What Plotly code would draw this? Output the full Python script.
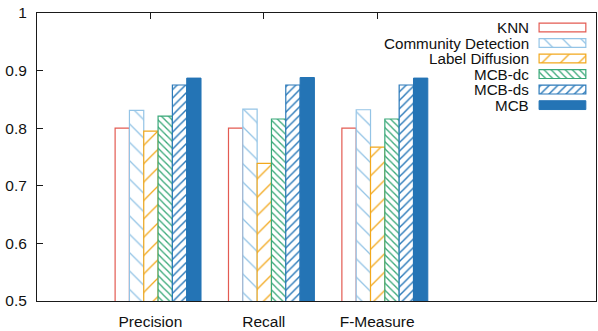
import plotly.graph_objects as go

# Data
categories = ["Precision", "Recall", "F-Measure"]
methods = ["KNN", "Community Detection", "Label Diffusion", "MCB-dc", "MCB-ds", "MCB"]
knn = [0.800, 0.800, 0.800]
community_detection = [0.831, 0.833, 0.832]
label_diffusion = [0.795, 0.739, 0.767]
mcb_dc = [0.821, 0.816, 0.816]
mcb_ds = [0.875, 0.875, 0.875]
mcb = [0.887, 0.888, 0.887]
series = [knn, community_detection, label_diffusion, mcb_dc, mcb_ds, mcb]

# Styles: (colour, pattern shape, pattern size, solidity); None shape = outline only / solid
styles = [
    ("#e35b52", None, 0, 0),
    ("#94c4e6", "\\", 13, 0.10),
    ("#f2a81c", "/", 13, 0.10),
    ("#38a878", "\\", 5, 0.26),
    ("#2a79b9", "/", 6, 0.24),
    ("#2474b5", None, 0, 0),
]

FONT = dict(family="Liberation Sans, Arial, sans-serif", size=15.5, color="#111111")
KEY_FONT = dict(family="Liberation Sans, Arial, sans-serif", size=15.2, color="#111111")
BAR_W = 0.1263
FIRST_OFF = -0.248
positions = list(range(len(categories)))

fig = go.Figure()


def marker_for(i):
    color, shape, size, sol = styles[i]
    if i == 0:
        return dict(color="white", line=dict(color=color, width=1.2))
    if shape is None:
        return dict(color=color, line=dict(color=color, width=1))
    return dict(
        color=color,
        line=dict(color=color, width=1.2),
        pattern=dict(shape=shape, size=size, solidity=sol, fgcolor=color,
                     bgcolor="white", fillmode="replace"),
    )


for i, vals in enumerate(series):
    xs = [p + FIRST_OFF + i * BAR_W for p in positions]
    fig.add_trace(go.Bar(
        x=xs, y=vals, width=BAR_W, name=methods[i], base=0,
        marker=marker_for(i), showlegend=False,
        xaxis="x", yaxis="y",
    ))

# Key drawn at top right: text right-aligned, sample box on the right
ROW_TOP_PX, ROW_STEP_PX, PLOT_TOP_PX, PLOT_BOT_PX = 27.8, 15.85, 13, 307
y2_range = [(PLOT_BOT_PX - ROW_TOP_PX) / ROW_STEP_PX, (PLOT_TOP_PX - ROW_TOP_PX) / ROW_STEP_PX]
for i, name in enumerate(methods):
    fig.add_trace(go.Bar(
        x=[1], y=[i], base=0, orientation="h", width=9 / ROW_STEP_PX,
        marker=marker_for(i), showlegend=False, hoverinfo="skip",
        xaxis="x2", yaxis="y2",
    ))
    fig.add_annotation(
        x=0.880, y=i, xref="paper", yref="y2", text=name, showarrow=False,
        xanchor="right", yanchor="middle", font=KEY_FONT,
        borderpad=0, borderwidth=0,
    )

fig.update_layout(
    width=598, height=331,
    margin=dict(l=37, r=1, t=13, b=24),
    paper_bgcolor="white", plot_bgcolor="white",
    barmode="overlay",
    font=FONT,
    xaxis=dict(
        range=[-1.0, 3.93], tickvals=positions, ticktext=categories,
        showgrid=False, zeroline=False, showline=True, linecolor="#1a1a1a", linewidth=1,
        mirror="ticks", ticks="inside", ticklen=6, tickcolor="#1a1a1a",
        layer="below traces", ticklabelstandoff=6,
    ),
    yaxis=dict(
        range=[0.5, 1.0], tickvals=[0.5, 0.6, 0.7, 0.8, 0.9, 1.0],
        ticktext=["0.5", "0.6", "0.7", "0.8", "0.9", "1"],
        showgrid=False, zeroline=False, showline=True, linecolor="#1a1a1a", linewidth=1,
        mirror=True, ticks="inside", ticklen=6, tickcolor="#1a1a1a",
        ticklabelstandoff=6,
    ),
    xaxis2=dict(domain=[0.894, 0.986], range=[-0.05, 1.05], anchor="y2", visible=False),
    yaxis2=dict(domain=[0, 1], range=y2_range, anchor="x2", visible=False),
)

fig.write_html("out.html")
